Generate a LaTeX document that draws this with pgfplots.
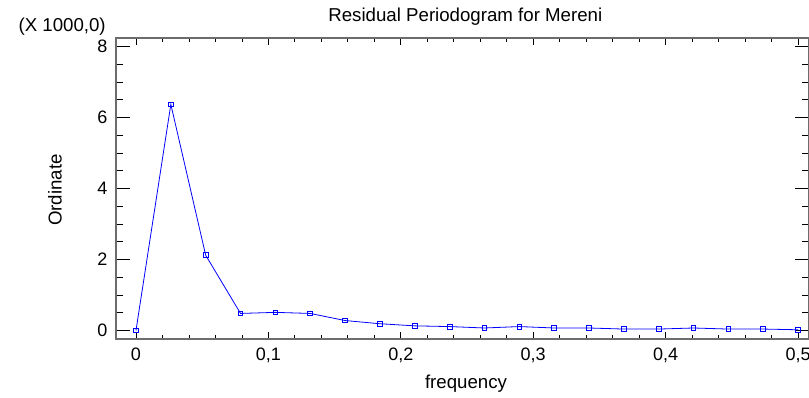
\documentclass[border=0pt]{standalone}
\usepackage{pgfplots}
\pgfplotsset{compat=1.18}
\usepackage{fontspec}
\setmainfont{Liberation Sans}
\begin{document}
\begin{tikzpicture}
\useasboundingbox (-87pt,-44.25pt) rectangle (519.75pt,254.25pt);
\begin{axis}[
  at={(0pt,0pt)}, anchor=south west,
  scale only axis, width=519.75pt, height=225.75pt,
  xmin=-0.0151, xmax=0.5083, ymin=-0.24, ymax=8.24,
  xtick={0,0.1,0.2,0.3,0.4,0.5},
  xticklabels={0,{0,1},{0,2},{0,3},{0,4},{0,5}},
  ytick={0,2,4,6,8},
  yticklabels={0,2,4,6,8},
  minor x tick num=4, minor y tick num=3,
  tick align=inside,
  major tick length=5.25pt, minor tick length=3pt,
  y tick style={/pgfplots/major tick length=10.5pt,/pgfplots/minor tick length=5.25pt},
  tick style={black, line width=0.6pt},
  axis line style={draw=gray!85!black, line width=0.8pt},
  ticklabel style={font=\fontsize{13.5pt}{16pt}\selectfont},
  xticklabel style={yshift=-3.5pt},
  yticklabel style={xshift=-3pt},
  clip=false,
]
\addplot[color=blue, line width=0.6pt, mark=square, mark size=1.75pt, mark options={solid, line width=0.6pt}] coordinates {
(0,0.0)
(0.026316,6.37)
(0.052632,2.12)
(0.078947,0.48)
(0.105263,0.51)
(0.131579,0.48)
(0.157895,0.28)
(0.184211,0.19)
(0.210526,0.13)
(0.236842,0.11)
(0.263158,0.07)
(0.289474,0.11)
(0.315789,0.07)
(0.342105,0.07)
(0.368421,0.04)
(0.394737,0.04)
(0.421053,0.07)
(0.447368,0.04)
(0.473684,0.04)
(0.5,0.02)
};
\end{axis}
\node[font=\fontsize{14pt}{17pt}\selectfont] at (262pt,241.5pt) {Residual Periodogram for Mereni};
\node[font=\fontsize{14pt}{17pt}\selectfont, anchor=east, inner sep=0pt] at (-7.5pt,234pt) {(X 1000,0)};
\node[font=\fontsize{14pt}{17pt}\selectfont, rotate=90] at (-45.75pt,111.75pt) {Ordinate};
\node[font=\fontsize{14pt}{17pt}\selectfont] at (262.5pt,-33.75pt) {frequency};
\end{tikzpicture}
\end{document}
